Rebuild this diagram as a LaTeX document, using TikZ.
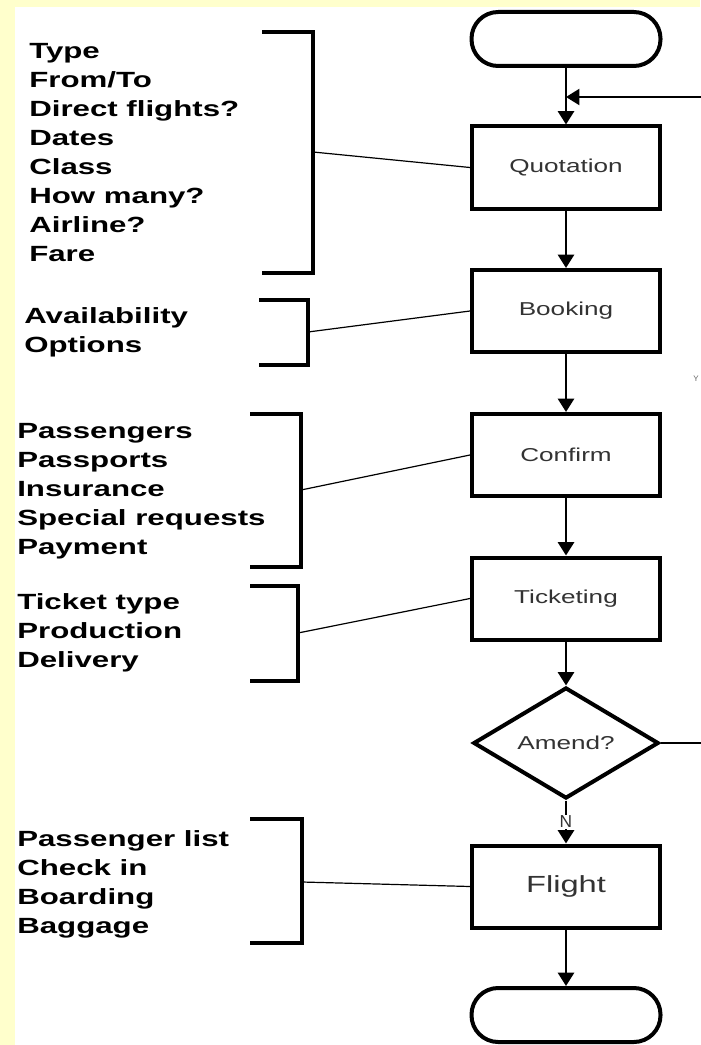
\documentclass[tikz,border=0pt]{standalone}
\usepackage{fontspec}
\setmainfont{Liberation Sans}
\newfontfamily\listfont{Liberation Sans}[FakeStretch=1.42]
\newfontfamily\boxfont{Liberation Sans}[FakeStretch=1.4]
\usetikzlibrary{shapes.geometric,arrows.meta}
\definecolor{pagebg}{HTML}{FFFFCC}
\definecolor{boxtext}{HTML}{333333}

\begin{document}
\begin{tikzpicture}[x=0.75pt,y=-0.75pt,
        stage/.style={draw,line width=3pt,fill=white,minimum width=141pt,minimum height=61.5pt,inner sep=0pt,text=boxtext,font=\boxfont\fontsize{14pt}{16pt}\selectfont},
        terminal/.style={draw,line width=3pt,fill=white,rounded corners=20pt,minimum width=141.75pt,minimum height=40.5pt},
        decision/.style={diamond,draw,line width=3pt,fill=white,minimum width=139pt,minimum height=63pt,inner sep=0pt,text=boxtext,font=\boxfont\fontsize{14pt}{16pt}\selectfont},
        flow/.style={line width=2pt,-{Triangle[length=10pt,width=12pt]}},
        bracket/.style={line width=3pt},
        link/.style={line width=0.9pt},
        notes/.style={anchor=north west,inner sep=0pt,align=left,font=\listfont\bfseries\fontsize{16.5pt}{21.75pt}\selectfont}]
    \useasboundingbox (0,0) rectangle (700,1045);
    \fill[pagebg] (0,0) rectangle (700,1045);
    \fill[white] (15,7) rectangle (700,1045);

    \node[terminal] (start) at (566,39) {};
    \node[stage] (quot) at (566,167.5) {Quotation};
    \node[stage] (book) at (566,311) {Booking};
    \node[stage] (conf) at (566,455) {Confirm};
    \node[stage] (tick) at (566,598.5) {Ticketing};
    \node[decision] (amend) at (566,743) {Amend?};
    \node[stage,font=\boxfont\fontsize{17.5pt}{20pt}\selectfont] (flight) at (566,886.5) {Flight};
    \node[terminal] (stop) at (566,1015) {};
    \coordinate (join) at (566,97);

    \draw[line width=2pt] (start) -- (join);
    \draw[flow] (join) -- (quot);
    \draw[flow] (quot) -- (book);
    \draw[flow] (book) -- (conf);
    \draw[flow] (conf) -- (tick);
    \draw[flow] (tick) -- (amend);
    \draw[flow] (amend) -- node[fill=white,inner sep=1pt,text=boxtext,font=\fontsize{13pt}{13pt}\selectfont] (no) {N} (flight);
    \draw[flow] (flight) -- (stop);
    \draw[flow,line width=1.5pt] (amend.east) -- (720,743) -- (720,97) -- (join);
    \node[anchor=west,inner sep=0pt,text=black!60,font=\fontsize{6pt}{6pt}\selectfont] (yes) at (693,379) {Y};

    \node[notes] (quotnotes) at (29,43) {Type\\From/To\\Direct flights?\\Dates\\Class\\How many?\\Airline?\\Fare};
    \node[notes] (booknotes) at (24,307) {Availability\\Options};
    \node[notes] (confnotes) at (17,423) {Passengers\\Passports\\Insurance\\Special requests\\Payment};
    \node[notes] (ticknotes) at (17,593) {Ticket type\\Production\\Delivery};
    \node[notes] (flightnotes) at (17,830) {Passenger list\\Check in\\Boarding\\Baggage};

    \draw[bracket] (262,32) -- (313,32) -- (313,273) -- (262,273);
    \draw[bracket] (259,300) -- (308,300) -- (308,365) -- (259,365);
    \draw[bracket] (250,414) -- (301,414) -- (301,567) -- (250,567);
    \draw[bracket] (250,586) -- (298,586) -- (298,681) -- (250,681);
    \draw[bracket] (250,819) -- (302,819) -- (302,943) -- (250,943);
    \coordinate (quotmid) at (313,152);
    \coordinate (bookmid) at (308,332);
    \coordinate (confmid) at (301,490);
    \coordinate (tickmid) at (298,633);
    \coordinate (flightmid) at (302,882);
    \draw[link] (quotmid) -- (quot.west);
    \draw[link] (bookmid) -- (book.west);
    \draw[link] (confmid) -- (conf.west);
    \draw[link] (tickmid) -- (tick.west);
    \draw[link] (flightmid) -- (flight.west);
\end{tikzpicture}
\end{document}
